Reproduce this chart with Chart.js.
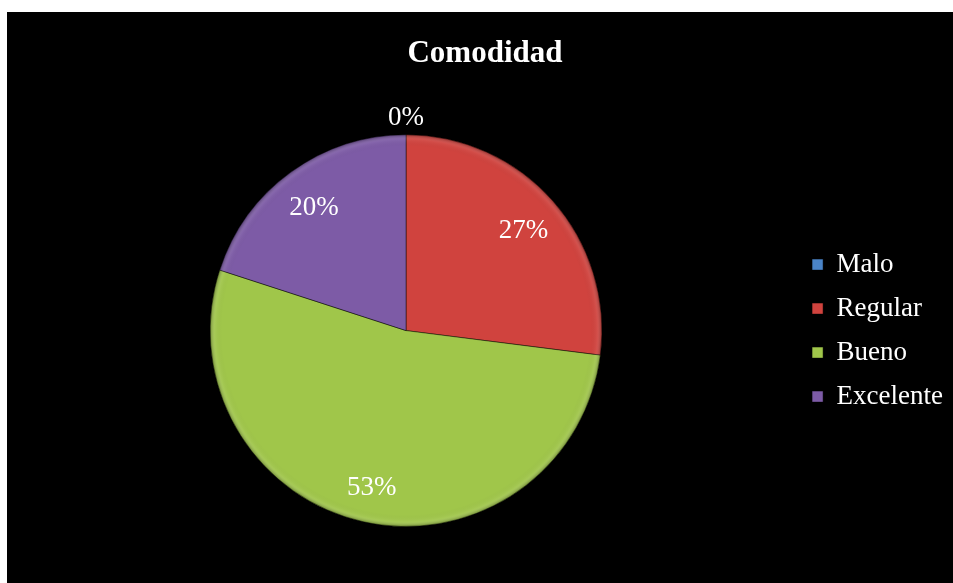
<!DOCTYPE html>
<html>
<head>
<meta charset="utf-8">
<title>Comodidad</title>
<script src="https://cdn.jsdelivr.net/npm/chart.js@4/dist/chart.umd.min.js"></script>
<style>
    html, body {
        margin: 0;
        padding: 0;
        background: #ffffff;
    }
    #chartBox {
        position: absolute;
        left: 7px;
        top: 12px;
        width: 946px;
        height: 571px;
        background: #000000;
    }
</style>
</head>
<body>
<div id="chartBox">
    <canvas id="comodidadChart"></canvas>
</div>
<script>
// Survey answers for "Comodidad"
const categories = ['Malo', 'Regular', 'Bueno', 'Excelente'];
const percentages = [0, 27, 53, 20];
const sliceColors = ['#4a84c8', '#d0433e', '#a0c64a', '#7d5ba6'];

const serif = "'Liberation Serif', 'Times New Roman', serif";

// Soft rim shading so the slices look slightly bevelled
const bevelPlugin = {
    id: 'bevel',
    afterDatasetsDraw(chart) {
        const ctx = chart.ctx;
        const meta = chart.getDatasetMeta(0);
        meta.data.forEach(arc => {
            const p = arc.getProps(['x', 'y', 'startAngle', 'endAngle', 'outerRadius'], true);
            if (p.endAngle - p.startAngle <= 0) return;
            const r = p.outerRadius;
            const grad = ctx.createRadialGradient(p.x, p.y, 0, p.x, p.y, r);
            grad.addColorStop(0, 'rgba(0,0,0,0)');
            grad.addColorStop(0.94, 'rgba(0,0,0,0)');
            grad.addColorStop(0.975, 'rgba(255,255,255,0.06)');
            grad.addColorStop(1, 'rgba(0,0,0,0.3)');
            ctx.save();
            ctx.beginPath();
            ctx.moveTo(p.x, p.y);
            ctx.arc(p.x, p.y, r, p.startAngle, p.endAngle);
            ctx.closePath();
            ctx.fillStyle = grad;
            ctx.fill();
            ctx.restore();
        });
    }
};

// Percent labels: inside each slice, or just outside the rim for empty ones
const percentLabels = {
    id: 'percentLabels',
    afterDraw(chart) {
        const ctx = chart.ctx;
        const meta = chart.getDatasetMeta(0);
        const values = chart.data.datasets[0].data;
        const total = values.reduce((a, b) => a + b, 0);
        ctx.save();
        ctx.font = '27px ' + serif;
        ctx.fillStyle = '#ffffff';
        ctx.textAlign = 'center';
        ctx.textBaseline = 'middle';
        meta.data.forEach((arc, i) => {
            const p = arc.getProps(['x', 'y', 'startAngle', 'endAngle', 'outerRadius'], true);
            const mid = (p.startAngle + p.endAngle) / 2;
            const dist = values[i] === 0 ? p.outerRadius + 21 : p.outerRadius * 0.8;
            const text = Math.round(values[i] / total * 100) + '%';
            // nudge down a little so the digits sit visually centred
            ctx.fillText(text, p.x + Math.cos(mid) * dist, p.y + Math.sin(mid) * dist + 4);
        });
        ctx.restore();
    }
};

new Chart(document.getElementById('comodidadChart'), {
    type: 'pie',
    data: {
        labels: categories,
        datasets: [{
            data: percentages,
            backgroundColor: sliceColors,
            borderColor: 'rgba(0,0,0,0.45)',
            borderWidth: 1
        }]
    },
    options: {
        responsive: true,
        maintainAspectRatio: false,
        animation: false,
        layout: {
            padding: { top: 0, bottom: 56, left: 10, right: 0 }
        },
        plugins: {
            title: {
                display: true,
                text: 'Comodidad',
                color: '#ffffff',
                font: { family: serif, size: 31, weight: 'bold' },
                padding: { top: 23, bottom: 62 }
            },
            legend: {
                position: 'right',
                fullSize: false,
                labels: {
                    color: '#ffffff',
                    font: { family: serif, size: 27 },
                    boxWidth: 11,
                    boxHeight: 11,
                    padding: 17
                }
            },
            tooltip: { enabled: false }
        }
    },
    plugins: [bevelPlugin, percentLabels]
});
</script>
</body>
</html>
